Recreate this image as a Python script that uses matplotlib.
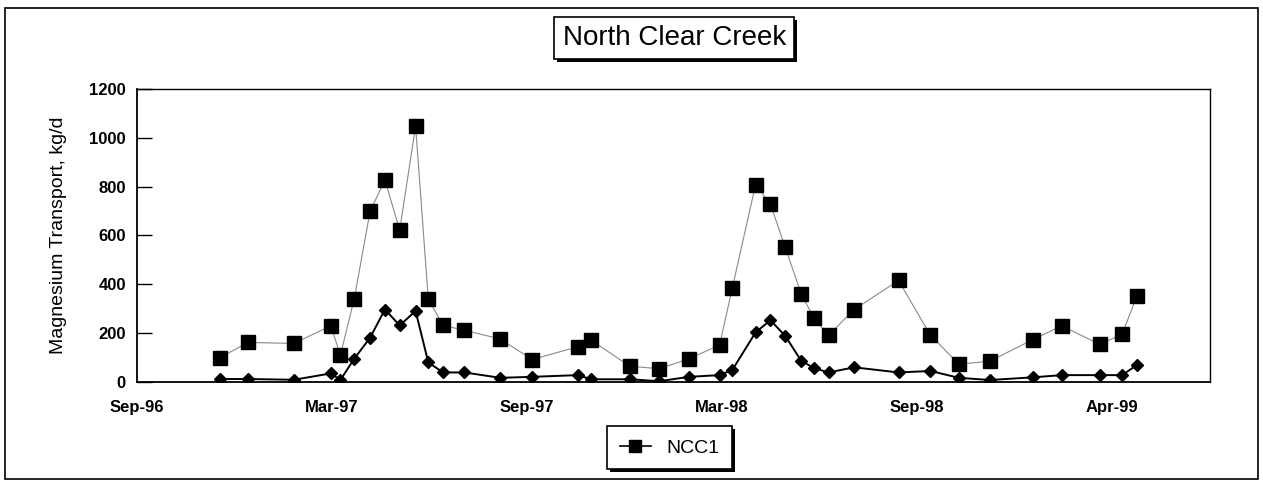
import numpy as np
import pandas as pd
import matplotlib
matplotlib.use("Agg")
import matplotlib.pyplot as plt
import matplotlib.dates as mdates
import matplotlib.patheffects as pe
from matplotlib.lines import Line2D
from matplotlib.patches import Rectangle

plt.rcParams['font.family'] = ['Liberation Sans', 'DejaVu Sans']

# sampling dates
dates = pd.to_datetime([
    "1996-12-11", "1997-01-07", "1997-02-19", "1997-03-26", "1997-04-04",
    "1997-04-17", "1997-05-02", "1997-05-16", "1997-05-30", "1997-06-14",
    "1997-06-26", "1997-07-10", "1997-07-30", "1997-09-02", "1997-10-02",
    "1997-11-14", "1997-11-27", "1998-01-02", "1998-01-30", "1998-02-27",
    "1998-03-28", "1998-04-09", "1998-05-01", "1998-05-15", "1998-05-29",
    "1998-06-13", "1998-06-25", "1998-07-09", "1998-08-02", "1998-09-13",
    "1998-10-13", "1998-11-09", "1998-12-08", "1999-01-18", "1999-02-14",
    "1999-03-22", "1999-04-12", "1999-04-26",
])

# NCC1 (squares), kg/d
ncc1 = [98, 161, 157, 229, 109, 338, 698, 827, 622, 1048,
        338, 231, 211, 175, 91, 143, 170, 64, 53, 94,
        150, 384, 808, 728, 551, 361, 261, 191, 296, 415,
        191, 72, 84, 173, 229, 153, 195, 350]

# second series (diamonds), kg/d
ncc2 = [11, 11, 8, 34, 7, 94, 180, 296, 231, 290,
        79, 38, 38, 16, 20, 27, 10, 10, 2, 20,
        27, 48, 202, 252, 188, 86, 56, 38, 59, 38,
        44, 16, 7, 18, 27, 27, 27, 68]

tick_start = pd.Timestamp("1996-09-24")
tick_step = 184  # days between axis labels
y_ticks = [0, 200, 400, 600, 800, 1000, 1200]

fig = plt.figure(figsize=(12.63, 4.83), dpi=100)
ax = fig.add_axes([0.1085, 0.2097, 0.8495, 0.606])

ax.plot(dates, ncc1, color="#8a8a8a", linewidth=0.8, marker="s",
        markersize=9.5, markerfacecolor="black", markeredgecolor="black",
        zorder=2)
ax.plot(dates, ncc2, color="black", linewidth=1.4, marker="D",
        markersize=6.5, markerfacecolor="black", markeredgecolor="black",
        zorder=3)

xt = [tick_start + pd.Timedelta(days=tick_step * k) for k in range(6)]
ax.set_xticks(xt)
ax.xaxis.set_major_formatter(mdates.DateFormatter("%b-%y"))
ax.set_xlim(tick_start, tick_start + pd.Timedelta(days=1013))
ax.set_ylim(0, 1200)
ax.set_yticks(y_ticks)

ax.tick_params(axis="x", length=0, pad=13, labelsize=12)
ax.tick_params(axis="y", direction="in", length=11, width=1, pad=8, labelsize=12)
for lab in ax.get_xticklabels() + ax.get_yticklabels():
    lab.set_fontweight("bold")

for s in ["left", "bottom"]:
    ax.spines[s].set_linewidth(1.3)
for s in ["top", "right"]:
    ax.spines[s].set_linewidth(1.0)

ax.set_ylabel("Magnesium Transport, kg/d", fontsize=14, labelpad=16)

shadow = [pe.SimplePatchShadow(offset=(2, -2), shadow_rgbFace="black", alpha=1),
          pe.Normal()]

title = fig.text(0.534, 0.921, "North Clear Creek", fontsize=20,
                 ha="center", va="center",
                 bbox=dict(boxstyle="square,pad=0.3", facecolor="white",
                           edgecolor="black", linewidth=1.2))
title.get_bbox_patch().set_path_effects(shadow)

handle = Line2D([], [], color="black", linewidth=1.2, marker="s",
                markersize=8, markerfacecolor="black")
leg = fig.legend([handle], ["NCC1"], loc="center", bbox_to_anchor=(0.53, 0.073),
                 fontsize=14, fancybox=False, edgecolor="black",
                 handlelength=1.6, borderpad=0.65, borderaxespad=0.8,
                 framealpha=1)
leg.get_frame().set_linewidth(1.2)
leg.get_frame().set_path_effects(shadow)

# outer chart border
fig.patches.append(Rectangle((0.004, 0.008), 0.992, 0.975, transform=fig.transFigure,
                             fill=False, edgecolor="black", linewidth=1.2))

fig.savefig("out.png", dpi=100)
